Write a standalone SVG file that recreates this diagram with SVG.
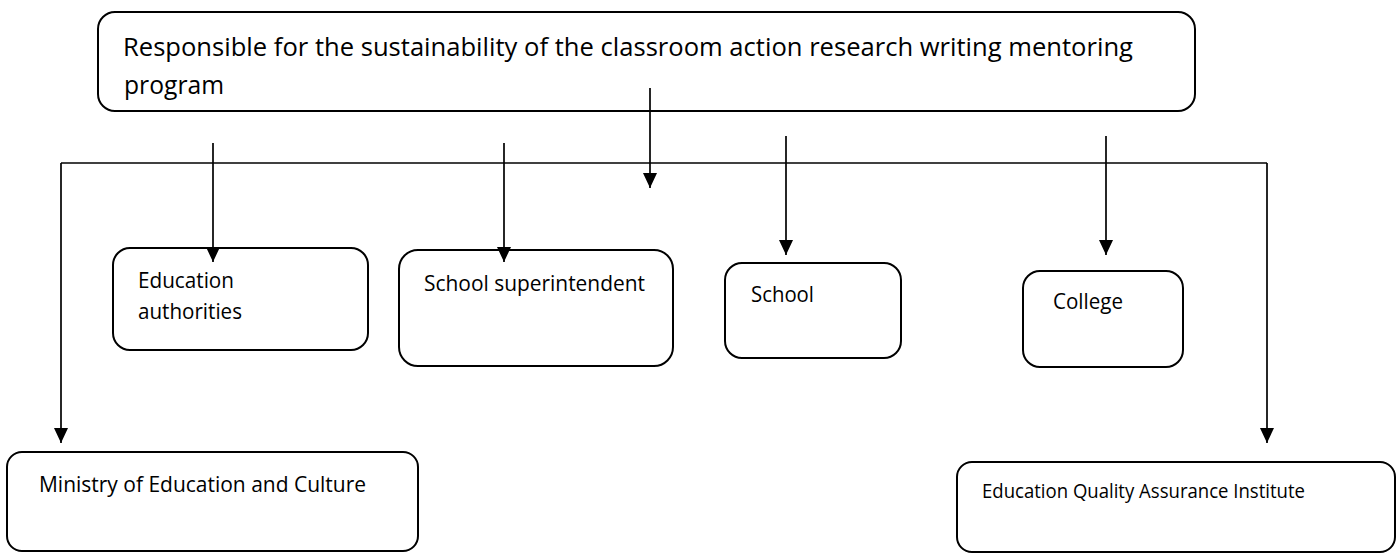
<svg xmlns="http://www.w3.org/2000/svg" width="1400" height="553" viewBox="0 0 1400 553">
<defs>
<style>
.box{fill:#fff;stroke:#000;stroke-width:2}
.ln{stroke:#000;stroke-width:1.7;fill:none}
.t{font-family:"Open Sans","Noto Sans","Liberation Sans",sans-serif;fill:#000}
</style>
<marker id="ah" viewBox="0 0 15 14" refX="15" refY="7" markerWidth="15" markerHeight="14" markerUnits="userSpaceOnUse" orient="auto">
<path d="M0,0 L15,7 L0,14 Z" fill="#000"/>
</marker>
</defs>
<g id="top">
<rect class="box" x="98" y="12" width="1097" height="99" rx="17"/>
<text class="t" x="123" y="56" font-size="26" textLength="1010" lengthAdjust="spacingAndGlyphs">Responsible for the sustainability of the classroom action research writing mentoring</text>
<text class="t" x="124" y="94" font-size="26" textLength="100" lengthAdjust="spacingAndGlyphs">program</text>
</g>
<g id="edu-auth">
<rect class="box" x="113" y="248" width="255" height="102" rx="17"/>
<text class="t" x="138" y="288" font-size="21" textLength="96" lengthAdjust="spacingAndGlyphs">Education</text>
<text class="t" x="138" y="319" font-size="21" textLength="104" lengthAdjust="spacingAndGlyphs">authorities</text>
</g>
<g id="superintendent">
<rect class="box" x="399" y="250" width="274" height="116" rx="19"/>
<text class="t" x="424" y="291" font-size="21" textLength="221" lengthAdjust="spacingAndGlyphs">School superintendent</text>
</g>
<g id="school">
<rect class="box" x="725" y="263" width="176" height="95" rx="17"/>
<text class="t" x="751" y="302" font-size="21" textLength="63" lengthAdjust="spacingAndGlyphs">School</text>
</g>
<g id="college">
<rect class="box" x="1023" y="271" width="160" height="96" rx="17"/>
<text class="t" x="1053" y="309" font-size="21" textLength="70" lengthAdjust="spacingAndGlyphs">College</text>
</g>
<g id="ministry">
<rect class="box" x="7" y="452" width="411" height="99" rx="15"/>
<text class="t" x="39" y="492" font-size="21.5" textLength="327" lengthAdjust="spacingAndGlyphs">Ministry of Education and Culture</text>
</g>
<g id="lpmp">
<rect class="box" x="957" y="462" width="438" height="90" rx="15"/>
<text class="t" x="982" y="498" font-size="19.5" textLength="323" lengthAdjust="spacingAndGlyphs">Education Quality Assurance Institute</text>
</g>
<g id="connectors">
<line class="ln" x1="61" y1="163" x2="1267" y2="163"/>
<line class="ln" x1="61" y1="163" x2="61" y2="443" marker-end="url(#ah)"/>
<line class="ln" x1="1267" y1="163" x2="1267" y2="443" marker-end="url(#ah)"/>
<line class="ln" x1="213" y1="143" x2="213" y2="262" marker-end="url(#ah)"/>
<line class="ln" x1="504" y1="143" x2="504" y2="262" marker-end="url(#ah)"/>
<line class="ln" x1="650" y1="88" x2="650" y2="188" marker-end="url(#ah)"/>
<line class="ln" x1="786" y1="136" x2="786" y2="255" marker-end="url(#ah)"/>
<line class="ln" x1="1106" y1="136" x2="1106" y2="255" marker-end="url(#ah)"/>
</g>
</svg>
